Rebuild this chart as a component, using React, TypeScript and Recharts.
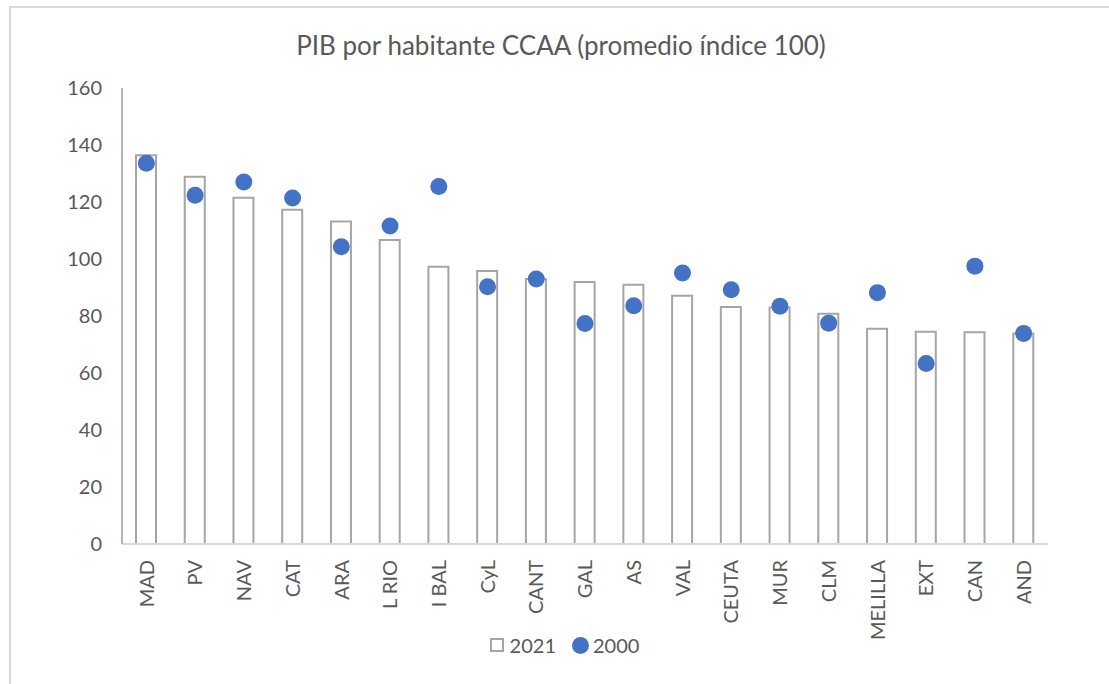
import React from "react";
import { ComposedChart, Bar, Line, XAxis, YAxis } from "recharts";

const REGIONS = ["MAD", "PV", "NAV", "CAT", "ARA", "L RIO", "I BAL", "CyL", "CANT", "GAL", "AS", "VAL", "CEUTA", "MUR", "CLM", "MELILLA", "EXT", "CAN", "AND"];
const Y2021 = [136.4, 128.9, 121.5, 117.3, 113.2, 106.7, 97.3, 95.8, 93.0, 91.9, 91.0, 87.1, 83.2, 83.0, 80.8, 75.5, 74.5, 74.3, 73.9];
const Y2000 = [133.6, 122.4, 127.0, 121.4, 104.3, 111.6, 125.4, 90.3, 93.0, 77.4, 83.6, 95.1, 89.2, 83.4, 77.5, 88.2, 63.3, 97.5, 73.9];
const Y_TICKS = [0, 20, 40, 60, 80, 100, 120, 140, 160];
const SERIES = ["2021", "2000"];

const FONT = "Lato, 'Open Sans', sans-serif";
const TEXT = "#595959";
const BORDER = "#b3b3b3";
const BAR_STROKE = "#a5a5a5";
const DOT = "#4472c4";

const data = REGIONS.map((r, i) => ({ region: r, v2021: Y2021[i], v2000: Y2000[i] }));

const RotatedTick = ({ x, y, payload }: any) => (
  <g transform={`translate(${x},${y})`}>
    <text
      transform="rotate(-90)"
      x={-8}
      y={0}
      dy="0.36em"
      textAnchor="end"
      fill={TEXT}
      fontSize={20}
      fontFamily={FONT}
    >
      {payload.value}
    </text>
  </g>
);

export default function App() {
  return (
    <div style={{ position: "absolute", left: 0, top: 0, width: 1109, height: 684, overflow: "hidden", background: "#fff" }}>
      <div style={{ position: "absolute", left: 9, top: 6, width: 1110, height: 700, border: "2px solid #d9d9d9" }} />
      <div
        style={{
          position: "absolute",
          left: 9,
          top: 28,
          width: 1104,
          textAlign: "center",
          fontFamily: FONT,
          fontSize: 26,
          color: TEXT,
          lineHeight: "34px",
        }}
      >
        PIB por habitante CCAA (promedio índice 100)
      </div>
      <div style={{ position: "absolute", left: 0, top: 0 }}>
        <ComposedChart width={1109} height={684} data={data} margin={{ top: 88, right: 61, bottom: 0, left: 60 }}>
          <XAxis
            dataKey="region"
            height={140}
            interval={0}
            tick={<RotatedTick />}
            tickLine={false}
            axisLine={{ stroke: "#d9d9d9", strokeWidth: 2 }}
          />
          <XAxis xAxisId="top" dataKey="region" orientation="top" height={0} tick={false} tickLine={false} axisLine={{ stroke: BORDER, strokeWidth: 2 }} />
          <YAxis
            domain={[0, 160]}
            ticks={Y_TICKS}
            width={62}
            tickLine={false}
            tickMargin={14}
            axisLine={{ stroke: BORDER, strokeWidth: 2 }}
            tick={{ fill: TEXT, fontSize: 20, fontFamily: FONT }}
          />
          <YAxis yAxisId="right" orientation="right" domain={[0, 160]} width={0} tick={false} tickLine={false} axisLine={{ stroke: BORDER, strokeWidth: 2 }} />
          <Bar dataKey="v2021" name={SERIES[0]} barSize={20} fill="#ffffff" stroke={BAR_STROKE} strokeWidth={2} isAnimationActive={false} />
          <Line
            dataKey="v2000"
            name={SERIES[1]}
            stroke="none"
            strokeWidth={0}
            dot={{ r: 8.5, fill: DOT, stroke: "none" }}
            activeDot={false}
            isAnimationActive={false}
          />
        </ComposedChart>
      </div>
      <div
        style={{
          position: "absolute",
          top: 633,
          left: 0,
          width: 1109,
          display: "flex",
          justifyContent: "center",
          alignItems: "center",
          fontFamily: FONT,
          fontSize: 20,
          color: TEXT,
          paddingLeft: 20,
          boxSizing: "border-box",
        }}
      >
        <span style={{ display: "inline-block", width: 10, height: 10, border: `2px solid ${BAR_STROKE}`, background: "#fff", marginRight: 6 }} />
        <span style={{ marginRight: 16 }}>{SERIES[0]}</span>
        <span style={{ display: "inline-block", width: 17, height: 17, borderRadius: "50%", background: DOT, marginRight: 4 }} />
        <span>{SERIES[1]}</span>
      </div>
    </div>
  );
}
